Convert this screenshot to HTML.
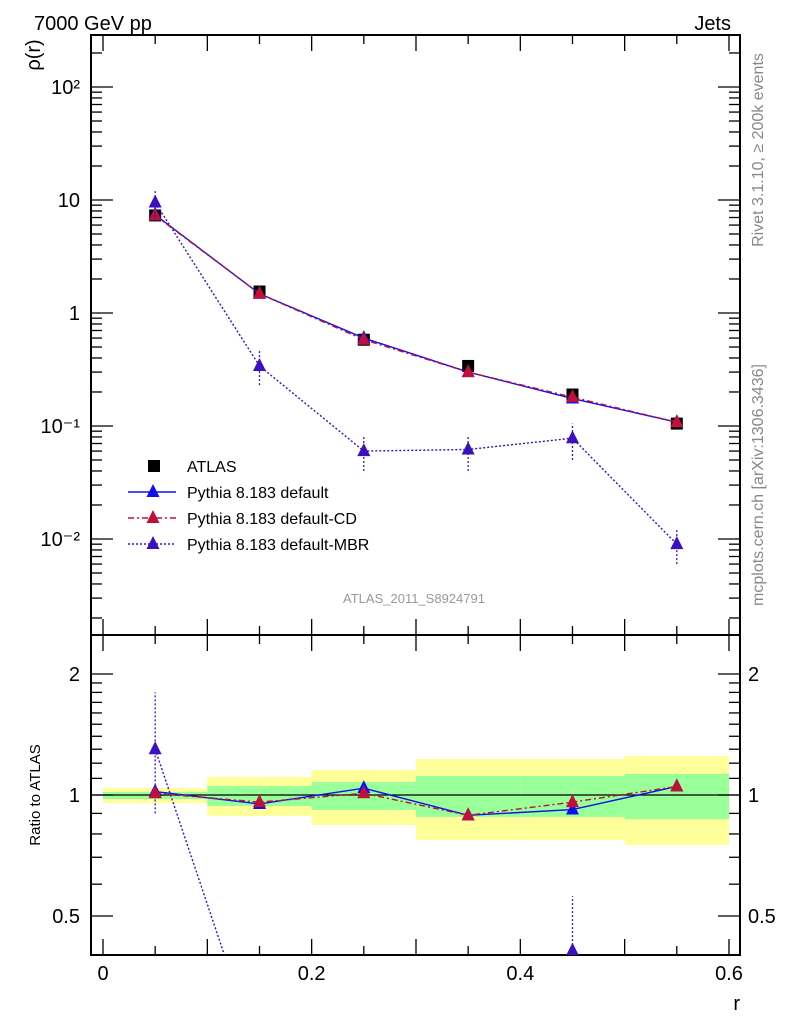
<!DOCTYPE html>
<html><head><meta charset="utf-8"><style>
html,body{margin:0;background:#fff;overflow:hidden;width:786px;height:1024px;}
svg{display:block;font-family:"Liberation Sans",sans-serif;}
</style></head><body>
<svg id="c" width="786" height="1024" viewBox="0 0 786 1024">
<g id="bands"></g>
<g id="axes"></g>
<g id="series"></g>
<text x="34" y="30" font-size="20">7000 GeV pp</text>
<text x="731" y="30" font-size="20" text-anchor="end">Jets</text>
<text transform="translate(40,55) rotate(-90)" font-size="20" text-anchor="middle">ρ(r)</text>
<text transform="translate(40,795) rotate(-90)" font-size="15" text-anchor="middle">Ratio to ATLAS</text>
<text x="740" y="1010" font-size="20" text-anchor="end">r</text>
<text x="414" y="603" font-size="13" fill="#999" text-anchor="middle">ATLAS_2011_S8924791</text>
<text transform="translate(763,150) rotate(-90)" font-size="16" fill="#888" text-anchor="middle">Rivet 3.1.10, ≥ 200k events</text>
<text transform="translate(763,485) rotate(-90)" font-size="16" fill="#888" text-anchor="middle">mcplots.cern.ch [arXiv:1306.3436]</text>
</svg>
<script>
const rVals=[0.05,0.15,0.25,0.35,0.45,0.55];
const atlas=[7.3,1.55,0.58,0.34,0.19,0.105];
const pyDefault=[7.4,1.48,0.60,0.30,0.175,0.108];
const pyCD=[7.3,1.48,0.58,0.30,0.18,0.108];
const pyMBR=[9.5,0.34,0.060,0.062,0.078,0.009];
const mbrErrLo=[6.5,0.23,0.04,0.04,0.05,0.006];
const mbrErrHi=[12.5,0.46,0.08,0.083,0.105,0.012];
const ratioDefault=[1.02,0.95,1.04,0.89,0.92,1.05];
const ratioCD=[1.01,0.96,1.01,0.89,0.96,1.05];
const ratioMBR=[1.30,0.22,0.10,0.18,0.41,0.086];
const bandYellowLo=[0.955,0.887,0.842,0.773,0.773,0.751];
const bandYellowHi=[1.04,1.109,1.154,1.229,1.229,1.25];
const bandGreenLo=[0.977,0.939,0.918,0.882,0.882,0.871];
const bandGreenHi=[1.017,1.053,1.077,1.115,1.115,1.128];
const xTicks=[0,0.2,0.4,0.6];
const mainTicks=[100,10,1,0.1,0.01];
const mainTickLabels=["10²","10","1","10⁻¹","10⁻²"];
const ratioTicks=[2,1,0.5];
const ratioTickLabels=["2","1","0.5"];

const L=91,R=740,T=35,MB=635,RB=955;
const X=v=>103+v*1043.3;
const Y=v=>313-113*Math.log10(v);
const YR=v=>795-121*Math.log2(v);
const NS="http://www.w3.org/2000/svg";
function mk(tag,attrs,parent){const e=document.createElementNS(NS,tag);for(const k in attrs)e.setAttribute(k,attrs[k]);(parent||document.getElementById('c')).appendChild(e);return e;}
const defs=mk('defs',{});
const cp=mk('clipPath',{id:'cm'},defs);mk('rect',{x:L,y:T,width:R-L,height:MB-T},cp);
const cr=mk('clipPath',{id:'cr'},defs);mk('rect',{x:L,y:MB,width:R-L,height:RB-MB},cr);

const bg=document.getElementById('bands');
for(let i=0;i<rVals.length;i++){
 const x0=X(rVals[i]-0.05),x1=X(rVals[i]+0.05);
 let e=mk('rect',{x:x0,y:YR(bandYellowHi[i]),width:x1-x0,height:YR(bandYellowLo[i])-YR(bandYellowHi[i]),fill:'#ffff99'},bg);
 
 
 e=mk('rect',{x:x0,y:YR(bandGreenHi[i]),width:x1-x0,height:YR(bandGreenLo[i])-YR(bandGreenHi[i]),fill:'#99ff99'},bg);
 
 
}
const ax=document.getElementById('axes');
mk('line',{x1:L,x2:R,y1:YR(1),y2:YR(1),stroke:'#000','stroke-width':1.3},ax);
mk('rect',{x:L,y:T,width:R-L,height:MB-T,fill:'none',stroke:'#000','stroke-width':2},ax);
mk('rect',{x:L,y:MB,width:R-L,height:RB-MB,fill:'none',stroke:'#000','stroke-width':2},ax);
for(let v=0;v<=0.6001;v+=0.05){
 const x=X(v),maj=Math.abs(v*10-Math.round(v*10))<1e-6;const len=maj?16:9;
 for(const [y0,d] of [[T,1],[MB,-1],[MB,1],[RB,-1]]) mk('line',{x1:x,x2:x,y1:y0,y2:y0+d*len,stroke:'#000','stroke-width':1.3},ax);
}
xTicks.forEach(v=>{const t=mk('text',{x:X(v),y:980,'font-size':20,'text-anchor':'middle'},ax);t.textContent=v===0?'0':v.toFixed(1);
 
 });
for(let d=-3;d<=2;d++)for(let m=1;m<10;m++){const v=m*Math.pow(10,d);const y=Y(v);if(y<T||y>MB)continue;const len=m===1?22:11;
 mk('line',{x1:L,x2:L+len,y1:y,y2:y,stroke:'#000','stroke-width':1.3},ax);mk('line',{x1:R,x2:R-len,y1:y,y2:y,stroke:'#000','stroke-width':1.3},ax);}
mainTicks.forEach((v,i)=>{const t=mk('text',{x:80,y:Y(v)+7,'font-size':20,'text-anchor':'end'},ax);t.textContent=mainTickLabels[i];
 
 });
for(let v=0.4;v<=2.5;v+=(v<2?0.1:0.5)){const y=YR(v);if(y<MB||y>RB)continue;const maj=[0.5,1,2].some(a=>Math.abs(a-v)<1e-6);const len=maj?22:11;
 mk('line',{x1:L,x2:L+len,y1:y,y2:y,stroke:'#000','stroke-width':1.3},ax);mk('line',{x1:R,x2:R-len,y1:y,y2:y,stroke:'#000','stroke-width':1.3},ax);}
ratioTicks.forEach((v,i)=>{let t=mk('text',{x:80,y:YR(v)+7,'font-size':20,'text-anchor':'end'},ax);t.textContent=ratioTickLabels[i];
 
 
 t=mk('text',{x:748,y:YR(v)+7,'font-size':20},ax);t.textContent=ratioTickLabels[i];
 
 });

const sg=document.getElementById('series');
function tri(x,y,col,g){return mk('path',{d:`M${x},${y-8}L${x+6.5},${y+5}L${x-6.5},${y+5}Z`,fill:col},g);}
function line(vals,fy,col,dash,clip,name){const g=mk('g',{'clip-path':'url(#'+clip+')'},sg);
 
 
 mk('polyline',{points:vals.map((v,i)=>X(rVals[i])+','+fy(v)).join(' '),fill:'none',stroke:col,'stroke-width':1.4,'stroke-dasharray':dash},g);
 vals.forEach((v,i)=>tri(X(rVals[i]),fy(v),col,g));return g;}
const gm=mk('g',{'clip-path':'url(#cm)'},sg);
atlas.forEach((v,i)=>{const e=mk('rect',{x:X(rVals[i])-6,y:Y(v)-6,width:12,height:12,fill:'#000'},gm);
 
 });
line(pyDefault,Y,'#1010ee','','cm','series-default');
line(pyCD,Y,'#c0103a','6,3,2,3','cm','series-cd');
const gmb=line(pyMBR,Y,'#3a10c0','2,2','cm','series-mbr');
pyMBR.forEach((v,i)=>mk('line',{x1:X(rVals[i]),x2:X(rVals[i]),y1:Y(mbrErrLo[i]),y2:Y(mbrErrHi[i]),stroke:'#3a10c0','stroke-width':1.3,'stroke-dasharray':'2,2'},gmb));
const grm=line(ratioMBR,YR,'#3a10c0','2,2','cr','ratio-mbr');
mk('line',{x1:X(0.05),x2:X(0.05),y1:YR(0.9),y2:YR(1.8),stroke:'#3a10c0','stroke-width':1.3,'stroke-dasharray':'2,2'},grm);
mk('line',{x1:X(0.45),x2:X(0.45),y1:YR(0.3),y2:YR(0.56),stroke:'#3a10c0','stroke-width':1.3,'stroke-dasharray':'2,2'},grm);
line(ratioDefault,YR,'#1010ee','','cr','ratio-default');
line(ratioCD,YR,'#c0103a','6,3,2,3','cr','ratio-cd');

const lg=mk('g',{},sg);


const legNames=['ATLAS','Pythia 8.183 default','Pythia 8.183 default-CD','Pythia 8.183 default-MBR'];
const legCols=['#000','#1010ee','#c0103a','#3a10c0'];
const legDash=['','','6,3,2,3','2,2'];
legNames.forEach((n,i)=>{const y=466+i*26;
 if(i===0){mk('rect',{x:148,y:y-6,width:12,height:12,fill:'#000'},lg);}
 else{mk('line',{x1:128,x2:176,y1:y,y2:y,stroke:legCols[i],'stroke-width':1.4,'stroke-dasharray':legDash[i]},lg);tri(153,y,legCols[i],lg);}
 const t=mk('text',{x:187,y:y+6,'font-size':16},lg);t.textContent=n;
 
 });
</script>
</body></html>
